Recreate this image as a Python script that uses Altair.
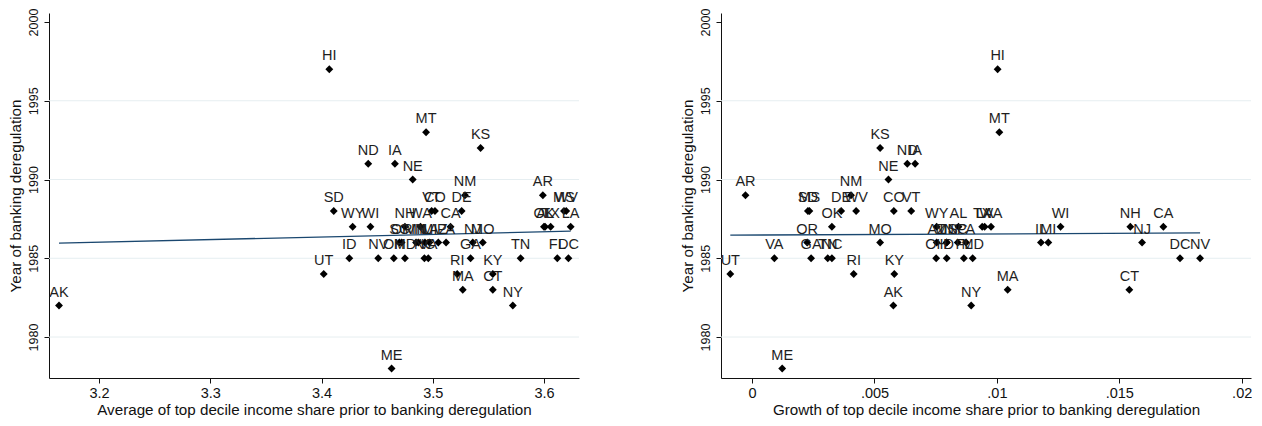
import altair as alt
import pandas as pd

# ---- data ----
states = ["AK", "AL", "AR", "AZ", "CA", "CO", "CT", "DC", "DE", "FL", "GA", "HI", "IA",
          "ID", "IL", "IN", "KS", "KY", "LA", "MA", "MD", "ME", "MI", "MN", "MO", "MS",
          "MT", "NC", "ND", "NE", "NH", "NJ", "NM", "NV", "NY", "OH", "OK", "OR", "PA",
          "RI", "SC", "SD", "TN", "TX", "UT", "VA", "VT", "WA", "WI", "WV", "WY"]
years = [1982, 1987, 1989, 1986, 1987, 1988, 1983, 1985, 1988, 1985, 1985, 1997, 1991,
         1985, 1986, 1986, 1992, 1984, 1987, 1983, 1985, 1978, 1986, 1986, 1986, 1988,
         1993, 1985, 1991, 1990, 1987, 1986, 1989, 1985, 1982, 1985, 1987, 1986, 1986,
         1984, 1986, 1988, 1985, 1987, 1984, 1985, 1988, 1987, 1987, 1988, 1987]
avg_share = [3.164, 3.601, 3.599, 3.505, 3.516, 3.502, 3.554, 3.622, 3.526, 3.612, 3.534,
             3.407, 3.466, 3.425, 3.493, 3.487, 3.543, 3.554, 3.624, 3.527, 3.475, 3.463,
             3.497, 3.485, 3.545, 3.618, 3.494, 3.4925, 3.442, 3.482, 3.475, 3.536, 3.529,
             3.451, 3.572, 3.465, 3.600, 3.472, 3.512, 3.522, 3.470, 3.411, 3.579, 3.606,
             3.402, 3.496, 3.499, 3.489, 3.444, 3.620, 3.428]
growth_share = [0.00577, 0.00843, -0.00027, 0.00754, 0.0168, 0.00579, 0.01541, 0.01748,
                0.00364, 0.00865, 0.00241, 0.01003, 0.00666, 0.00795, 0.0118, 0.00795,
                0.00523, 0.00581, 0.0095, 0.01044, 0.00901, 0.00123, 0.0121, 0.00795,
                0.00523, 0.00234, 0.0101, 0.00326, 0.00634, 0.00557, 0.01545, 0.01593,
                0.00404, 0.0183, 0.00895, 0.00752, 0.00326, 0.00225, 0.00874, 0.00415,
                0.0084, 0.00228, 0.00309, 0.0094, -0.00089, 0.00091, 0.0065, 0.00976,
                0.0126, 0.00425, 0.00754]

y_ticks = [1980, 1985, 1990, 1995, 2000]
grid_years = [1980, 1985, 1990, 1995]
left_ticks = [3.2, 3.3, 3.4, 3.5, 3.6]
right_ticks = [0, 0.005, 0.01, 0.015, 0.02]

df = pd.DataFrame({"state": states, "year": years, "avg": avg_share, "growth": growth_share})
grid_df = pd.DataFrame({"year": grid_years})

FONT = "Liberation Sans"
Y_DOMAIN = [1977.4, 2000.57]


def panel(xfield, xdomain, xvals, xtitle, label_expr=None):
    axis_kw = dict(values=xvals, title=xtitle, tickSize=5, labelPadding=3,
                   titlePadding=3, labelFlush=False, labelOverlap=False)
    if label_expr:
        axis_kw["labelExpr"] = label_expr
    else:
        axis_kw["format"] = ".1f"
    x = alt.X(f"{xfield}:Q", scale=alt.Scale(domain=xdomain, nice=False, zero=False),
              axis=alt.Axis(**axis_kw))
    y = alt.Y("year:Q", scale=alt.Scale(domain=Y_DOMAIN, nice=False, zero=False),
              axis=alt.Axis(values=y_ticks, title="Year of banking deregulation",
                            labelAngle=270, labelFontSize=12.5, tickSize=5,
                            labelPadding=4, titlePadding=4, labelFlush=False,
                            labelOverlap=False, format="d"))
    base = alt.Chart(df)
    grid = alt.Chart(grid_df).mark_rule(color="#e6eef1", strokeWidth=1).encode(y=y)
    fit = base.transform_regression(xfield, "year").mark_line(
        color="#1a476f", strokeWidth=1.3).encode(x=x, y=y)
    pts = base.mark_point(shape="diamond", filled=True, color="black", size=62,
                          opacity=1).encode(x=x, y=y)
    txt = base.mark_text(dy=-13, fontSize=14.5, font=FONT, color="#1e1e1e").encode(
        x=x, y=y, text="state:N")
    return alt.layer(grid, fit, pts, txt).properties(width=530, height=365)


left = panel("avg", [3.155, 3.6315], left_ticks,
             "Average of top decile income share prior to banking deregulation")
right = panel("growth", [-0.00127, 0.02038], right_ticks,
              "Growth of top decile income share prior to banking deregulation",
              label_expr="datum.value == 0 ? '0' : replace(format(datum.value, '.3~f'), '0.', '.')")

chart = alt.hconcat(left, right, spacing=100).properties(
    padding={"left": 0, "top": 0, "right": 0, "bottom": 0},
    background="white",
).configure_view(stroke=None).configure_axis(
    labelFont=FONT, titleFont=FONT, labelFontSize=14.5, titleFontSize=15.2,
    titleFontWeight="normal", labelColor="#111", titleColor="#111",
    domainColor="#111", tickColor="#111", domainWidth=1, tickWidth=1, grid=False,
)

chart.save("out.html", embed_options={"renderer": "svg", "actions": False})
